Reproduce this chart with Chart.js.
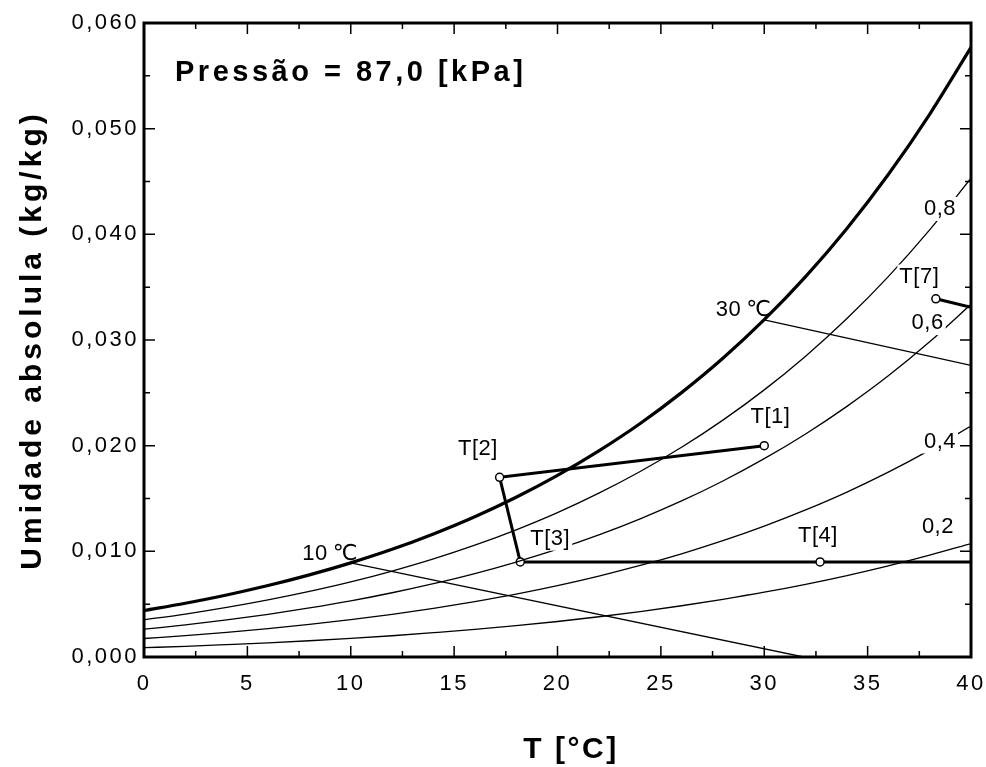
<!DOCTYPE html>
<html>
<head>
<meta charset="utf-8">
<script src="https://cdn.jsdelivr.net/npm/chart.js@4.4.1/dist/chart.umd.min.js"></script>
<style>
  body { margin: 0; background: #fff; }
</style>
</head>
<body>
<canvas id="graf" width="986" height="767"></canvas>
<script>
// temperatura [C] e umidade absoluta [kg/kg]
const temps = [0, 2, 4, 6, 8, 10, 12, 14, 16, 18, 20, 22, 24, 26, 28, 30, 32, 34, 36, 38, 40];
const wSat = [0.00440, 0.00509, 0.00587, 0.00676, 0.00777, 0.00891, 0.01019, 0.01165, 0.01328, 0.01512, 0.01719,
    0.01951, 0.02210, 0.02502, 0.02827, 0.03192, 0.03600, 0.04056, 0.04566, 0.05136, 0.05769];
const w80 = [0.00352, 0.00406, 0.00469, 0.00540, 0.00620, 0.00710, 0.00813, 0.00928, 0.01058, 0.01204, 0.01367,
    0.01551, 0.01756, 0.01985, 0.02242, 0.02528, 0.02847, 0.03203, 0.03600, 0.04042, 0.04531];
const w60 = [0.00263, 0.00304, 0.00351, 0.00404, 0.00464, 0.00531, 0.00608, 0.00694, 0.00790, 0.00899, 0.01020,
    0.01156, 0.01308, 0.01477, 0.01666, 0.01877, 0.02111, 0.02372, 0.02661, 0.02983, 0.03338];
const w40 = [0.00175, 0.00203, 0.00234, 0.00269, 0.00308, 0.00353, 0.00404, 0.00461, 0.00525, 0.00596, 0.00676,
    0.00766, 0.00866, 0.00977, 0.01101, 0.01239, 0.01392, 0.01561, 0.01749, 0.01958, 0.02186];
const w20 = [0.00088, 0.00101, 0.00117, 0.00134, 0.00154, 0.00176, 0.00201, 0.00230, 0.00261, 0.00297, 0.00336,
    0.00381, 0.00430, 0.00485, 0.00546, 0.00613, 0.00688, 0.00771, 0.00863, 0.00964, 0.01074];

// linhas de bulbo umido
const wb10T = [10, 31.9];
const wb10W = [0.0089, 0.0];
const wb30T = [30, 40];
const wb30W = [0.0319, 0.0276];

// processo T[1] -> T[2] -> T[3] -> T[4] -> ...
const procT = [30.0, 17.2, 18.2, 32.7, 40];
const procW = [0.0200, 0.0170, 0.0090, 0.0090, 0.0090];
const t7T = [38.3, 40];
const t7W = [0.0339, 0.0331];

// rotulos: texto, T, w, fundo branco
const notes = [
    ['0,8', 38.5, 0.0424, true],
    ['0,6', 37.9, 0.0316, true],
    ['0,4', 38.5, 0.0204, true],
    ['0,2', 38.4, 0.0123, true],
    ['T[1]', 30.3, 0.0227, true],
    ['T[2]', 16.15, 0.0197, true],
    ['T[3]', 19.65, 0.0112, true],
    ['T[4]', 32.6, 0.0115, true],
    ['T[7]', 37.5, 0.0360, true],
    ['30\u2009\u2103', 29.0, 0.0328, false],
    ['10\u2009\u2103', 9.0, 0.0098, false]
];

const title = 'Press\u00e3o = 87,0 [kPa]';
const xTitle = 'T [\u00b0C]';
const yTitle = 'Umidade absolula (kg/kg)';

const pts = (xs, ys) => xs.map((x, i) => ({x: x, y: ys[i]}));

const fontName = '"Liberation Sans", Arial, "DejaVu Sans", sans-serif';

function curve(data, width) {
    return {
        data: data,
        borderColor: '#000',
        borderWidth: width,
        pointRadius: 0,
        showLine: true,
        cubicInterpolationMode: 'monotone',
        fill: false
    };
}

function marked(data, radius) {
    return {
        data: data,
        showLine: true,
        borderColor: '#000',
        borderWidth: 3,
        pointRadius: radius,
        pointBorderWidth: 1.5,
        pointBackgroundColor: '#fff',
        pointBorderColor: '#000'
    };
}

const labelsPlugin = {
    id: 'labels',
    afterDatasetsDraw(chart) {
        const {ctx, scales: {x, y}} = chart;
        ctx.save();
        ctx.letterSpacing = '0.5px';
        ctx.font = '22px ' + fontName;
        ctx.textAlign = 'center';
        ctx.textBaseline = 'middle';
        notes.forEach(n => {
            const px = x.getPixelForValue(n[1]);
            const py = y.getPixelForValue(n[2]);
            const w = ctx.measureText(n[0]).width;
            if (n[3]) {
                ctx.fillStyle = '#fff';
                ctx.fillRect(px - w / 2 - 2, py - 12, w + 4, 24);
            }
            ctx.fillStyle = '#000';
            ctx.fillText(n[0], px, py);
        });
        ctx.restore();
    }
};

const framePlugin = {
    id: 'frame',
    beforeDraw(chart) {
        chart.ctx.letterSpacing = '2.5px';
    },
    afterDraw(chart) {
        const {ctx, chartArea: a, scales: {x, y}} = chart;
        ctx.save();
        ctx.strokeStyle = '#000';
        ctx.lineWidth = 1.5;
        ctx.beginPath();
        for (let i = 0; i <= 16; i++) {
            const len = i % 2 === 0 ? 11 : 6;
            const px = x.getPixelForValue(i * 2.5);
            ctx.moveTo(px, a.bottom); ctx.lineTo(px, a.bottom - len);
            ctx.moveTo(px, a.top); ctx.lineTo(px, a.top + len);
        }
        for (let i = 0; i <= 12; i++) {
            const len = i % 2 === 0 ? 11 : 6;
            const py = y.getPixelForValue(i * 0.005);
            ctx.moveTo(a.left, py); ctx.lineTo(a.left + len, py);
            ctx.moveTo(a.right, py); ctx.lineTo(a.right - len, py);
        }
        ctx.stroke();
        ctx.lineWidth = 3;
        ctx.strokeRect(a.left, a.top, a.right - a.left, a.bottom - a.top);

        ctx.fillStyle = '#000';
        ctx.textBaseline = 'middle';

        ctx.letterSpacing = '3.5px';
        ctx.font = 'bold 29px ' + fontName;
        ctx.textAlign = 'left';
        ctx.fillText(title, 175, 73);

        ctx.letterSpacing = '2.5px';
        ctx.font = 'bold 30px ' + fontName;
        ctx.textAlign = 'center';
        ctx.fillText(xTitle, 571, 750);

        ctx.letterSpacing = '4px';
        ctx.translate(33, (a.top + a.bottom) / 2);
        ctx.rotate(-Math.PI / 2);
        ctx.fillText(yTitle, 0, 0);
        ctx.restore();
    }
};

new Chart('graf', {
    type: 'scatter',
    data: {
        datasets: [
            curve(pts(temps, wSat), 3.2),
            curve(pts(temps, w80), 1.3),
            curve(pts(temps, w60), 1.3),
            curve(pts(temps, w40), 1.3),
            curve(pts(temps, w20), 1.3),
            curve(pts(wb10T, wb10W), 1.3),
            curve(pts(wb30T, wb30W), 1.3),
            marked(pts(procT, procW), [4, 4, 4, 4, 0]),
            marked(pts(t7T, t7W), [4, 0])
        ]
    },
    options: {
        responsive: false,
        animation: false,
        layout: {padding: {top: 23, right: 15, left: 0, bottom: 0}},
        plugins: {legend: {display: false}, tooltip: {enabled: false}},
        scales: {
            x: {
                type: 'linear',
                min: 0,
                max: 40,
                grid: {display: false, drawTicks: false},
                border: {display: false},
                ticks: {stepSize: 5, padding: 14, color: '#000', font: {family: fontName, size: 22}},
                afterFit(s) { s.height = 110; s.paddingLeft = 0; s.paddingRight = 0; }
            },
            y: {
                type: 'linear',
                min: 0,
                max: 0.06,
                grid: {display: false, drawTicks: false},
                border: {display: false},
                ticks: {
                    stepSize: 0.01,
                    padding: 5,
                    color: '#000',
                    font: {family: fontName, size: 22},
                    callback: v => v.toFixed(3).replace('.', ',')
                },
                afterFit(s) { s.width = 144; s.paddingTop = 0; s.paddingBottom = 0; }
            }
        }
    },
    plugins: [labelsPlugin, framePlugin]
});
</script>
</body>
</html>
